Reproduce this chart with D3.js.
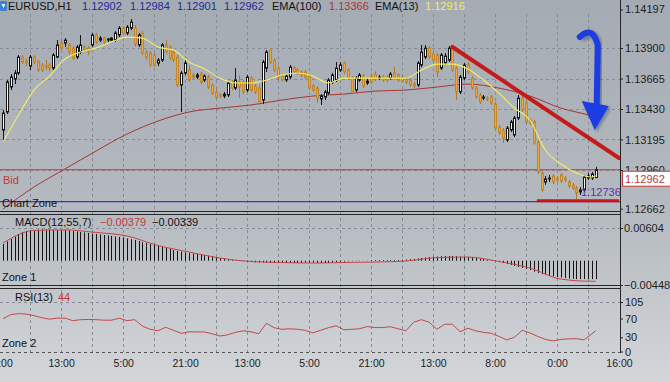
<!DOCTYPE html>
<html>
<head>
<meta charset="utf-8">
<script src="https://cdn.jsdelivr.net/npm/d3@7"></script>
<style>
  body { margin: 0; background: #c4c8cc; }
  svg { display: block; font-family: "Liberation Sans", Arial, sans-serif; }
</style>
</head>
<body>
<script>
// EURUSD H1 — one candle per hour, bar 0 .. 153
const open = [
  1.13268,1.13407,1.13599,1.13661,1.13707,1.13830,1.13799,1.13761,1.13830,1.13792,
  1.13769,1.13761,1.13769,1.13745,1.13830,1.13938,1.13938,1.13923,1.13899,1.13830,
  1.13869,1.13907,1.13899,1.13923,1.14000,1.13961,1.13976,1.13961,1.13961,1.13961,
  1.14000,1.14053,1.14015,1.14053,1.14053,1.13923,1.14015,1.13869,1.13861,1.13846,
  1.13784,1.13807,1.13923,1.13907,1.13869,1.13830,1.13615,1.13707,1.13730,1.13692,
  1.13676,1.13699,1.13653,1.13676,1.13615,1.13561,1.13538,1.13530,1.13538,1.13638,
  1.13591,1.13638,1.13638,1.13576,1.13668,1.13607,1.13591,1.13499,1.13745,1.13884,
  1.13807,1.13745,1.13684,1.13653,1.13676,1.13745,1.13730,1.13715,1.13715,1.13684,
  1.13607,1.13591,1.13507,1.13522,1.13553,1.13638,1.13653,1.13730,1.13784,1.13730,
  1.13668,1.13576,1.13653,1.13684,1.13630,1.13684,1.13699,1.13668,1.13676,1.13676,
  1.13668,1.13707,1.13692,1.13676,1.13661,1.13653,1.13622,1.13615,1.13769,1.13830,
  1.13899,1.13853,1.13846,1.13745,1.13784,1.13807,1.13907,1.13745,1.13561,1.13668,
  1.13776,1.13668,1.13591,1.13538,1.13514,1.13514,1.13522,1.13468,1.13291,1.13268,
  1.13191,1.13268,1.13230,1.13360,1.13514,1.13476,1.13345,1.13330,1.13176,1.12937,
  1.12868,1.12891,1.12914,1.12898,1.12922,1.12898,1.12868,1.12845,1.12821,1.12791,
  1.12806,1.12898,1.12898,1.12902
];
const high = [
  1.13422,1.13653,1.13699,1.13730,1.13846,1.13846,1.13822,1.13846,1.13846,1.13807,
  1.13784,1.13807,1.13784,1.13861,1.13961,1.13961,1.13976,1.13938,1.13915,1.13923,
  1.14000,1.13923,1.13915,1.14015,1.14015,1.13992,1.13984,1.13976,1.13984,1.14030,
  1.14069,1.14061,1.14077,1.14123,1.14077,1.14015,1.14030,1.13884,1.13876,1.13861,
  1.13822,1.13938,1.13961,1.13923,1.13884,1.13846,1.13722,1.13807,1.13769,1.13707,
  1.13707,1.13715,1.13699,1.13692,1.13630,1.13591,1.13553,1.13561,1.13645,1.13653,
  1.13745,1.13692,1.13653,1.13692,1.13684,1.13622,1.13615,1.13807,1.13884,1.13899,
  1.13822,1.13761,1.13699,1.13699,1.13769,1.13761,1.13745,1.13730,1.13730,1.13699,
  1.13622,1.13607,1.13545,1.13576,1.13668,1.13707,1.13792,1.13792,1.13799,1.13745,
  1.13684,1.13684,1.13707,1.13699,1.13668,1.13707,1.13722,1.13692,1.13692,1.13692,
  1.13715,1.13753,1.13707,1.13692,1.13676,1.13668,1.13638,1.13799,1.13923,1.13923,
  1.13915,1.13869,1.13861,1.13861,1.13861,1.13915,1.13923,1.13761,1.13692,1.13784,
  1.13792,1.13684,1.13607,1.13553,1.13538,1.13530,1.13538,1.13484,1.13307,1.13283,
  1.13299,1.13345,1.13376,1.13538,1.13530,1.13499,1.13360,1.13345,1.13191,1.12952,
  1.12914,1.12922,1.12929,1.12914,1.12937,1.12914,1.12883,1.12860,1.12837,1.12829,
  1.12922,1.12937,1.12945,1.12984
];
const low = [
  1.13176,1.13391,1.13576,1.13622,1.13692,1.13776,1.13761,1.13730,1.13776,1.13715,
  1.13715,1.13730,1.13722,1.13730,1.13822,1.13884,1.13907,1.13853,1.13807,1.13815,
  1.13853,1.13869,1.13846,1.13907,1.13930,1.13946,1.13930,1.13946,1.13953,1.13946,
  1.13984,1.14000,1.14000,1.14038,1.13915,1.13907,1.13846,1.13807,1.13753,1.13753,
  1.13761,1.13792,1.13853,1.13807,1.13792,1.13599,1.13407,1.13692,1.13638,1.13661,
  1.13661,1.13622,1.13638,1.13584,1.13538,1.13507,1.13514,1.13514,1.13522,1.13576,
  1.13576,1.13514,1.13545,1.13561,1.13561,1.13545,1.13461,1.13468,1.13715,1.13776,
  1.13715,1.13653,1.13638,1.13638,1.13661,1.13699,1.13692,1.13676,1.13661,1.13576,
  1.13561,1.13476,1.13461,1.13499,1.13538,1.13622,1.13638,1.13715,1.13699,1.13653,
  1.13545,1.13561,1.13638,1.13591,1.13615,1.13622,1.13645,1.13653,1.13638,1.13638,
  1.13653,1.13653,1.13638,1.13630,1.13622,1.13599,1.13591,1.13599,1.13753,1.13815,
  1.13815,1.13792,1.13676,1.13730,1.13769,1.13792,1.13715,1.13499,1.13545,1.13653,
  1.13699,1.13576,1.13507,1.13468,1.13499,1.13491,1.13461,1.13268,1.13230,1.13168,
  1.13176,1.13253,1.13214,1.13345,1.13407,1.13314,1.13307,1.13153,1.12929,1.12791,
  1.12845,1.12868,1.12852,1.12868,1.12860,1.12868,1.12821,1.12806,1.12736,1.12768,
  1.12791,1.12883,1.12883,1.12901
];
const close = [
  1.13399,1.13638,1.13676,1.13707,1.13830,1.13792,1.13784,1.13830,1.13792,1.13730,
  1.13730,1.13753,1.13745,1.13846,1.13923,1.13899,1.13961,1.13869,1.13822,1.13907,
  1.13923,1.13884,1.13869,1.14000,1.13946,1.13976,1.13946,1.13969,1.13976,1.14015,
  1.14053,1.14015,1.14061,1.14100,1.13930,1.14000,1.13861,1.13830,1.13769,1.13769,
  1.13807,1.13923,1.13869,1.13822,1.13807,1.13615,1.13707,1.13784,1.13653,1.13676,
  1.13692,1.13638,1.13684,1.13599,1.13553,1.13522,1.13530,1.13545,1.13630,1.13591,
  1.13653,1.13599,1.13561,1.13676,1.13576,1.13561,1.13484,1.13792,1.13869,1.13792,
  1.13730,1.13668,1.13653,1.13684,1.13753,1.13715,1.13707,1.13692,1.13676,1.13591,
  1.13576,1.13514,1.13530,1.13561,1.13653,1.13692,1.13745,1.13769,1.13715,1.13668,
  1.13561,1.13668,1.13692,1.13607,1.13645,1.13638,1.13661,1.13676,1.13653,1.13653,
  1.13699,1.13668,1.13653,1.13645,1.13638,1.13615,1.13607,1.13784,1.13869,1.13899,
  1.13830,1.13807,1.13715,1.13846,1.13838,1.13899,1.13730,1.13561,1.13676,1.13769,
  1.13715,1.13591,1.13522,1.13484,1.13522,1.13507,1.13476,1.13283,1.13245,1.13206,
  1.13283,1.13330,1.13360,1.13514,1.13422,1.13330,1.13322,1.13168,1.12945,1.12806,
  1.12891,1.12898,1.12868,1.12883,1.12875,1.12883,1.12837,1.12821,1.12783,1.12806,
  1.12906,1.12914,1.12929,1.12962
];

// EMA(13), read every 4th bar (+ last bar)
const ema13Bars = d3.range(0, 153, 4).concat([153]);
const ema13 = [
  1.13176,1.13384,1.13576,1.13684,1.13815,1.13869,1.13899,1.13946,1.13984,1.13976,
  1.13907,1.13884,1.13792,1.13738,1.13668,1.13630,1.13630,1.13653,1.13692,1.13707,
  1.13684,1.13630,1.13668,1.13668,1.13668,1.13668,1.13668,1.13730,1.13776,1.13776,
  1.13738,1.13653,1.13553,1.13437,1.13345,1.13114,1.13006,1.12937,1.12906,1.12916
];
// EMA(100), read every 8th bar (+ last bar)
const ema100Bars = d3.range(0, 153, 8).concat([153]);
const ema100 = [
  1.12660,1.12829,1.12968,1.13106,1.13237,1.13337,1.13407,1.13437,1.13461,1.13499,
  1.13530,1.13545,1.13568,1.13576,1.13599,1.13622,1.13591,1.13530,1.13437,1.13376,1.13366
];

// MACD(12,55,7) histogram, one per bar
const macd = [
  0.00309,0.00355,0.00401,0.00448,0.00494,0.00522,0.00549,0.00559,0.00568,0.00572,
  0.00577,0.00577,0.00577,0.00572,0.00568,0.00568,0.00568,0.00559,0.00549,0.00540,
  0.00531,0.00522,0.00512,0.00503,0.00494,0.00485,0.00475,0.00466,0.00457,0.00448,
  0.00438,0.00424,0.00411,0.00398,0.00383,0.00364,0.00346,0.00327,0.00309,0.00290,
  0.00272,0.00253,0.00235,0.00216,0.00198,0.00183,0.00170,0.00155,0.00142,0.00133,
  0.00124,0.00115,0.00105,0.00091,0.00078,0.00065,0.00050,0.00035,0.00022,0.00013,
  0.00004,-0.00002,-0.00006,-0.00015,-0.00024,-0.00030,-0.00033,-0.00033,-0.00033,-0.00039,
  -0.00043,-0.00043,-0.00043,-0.00043,-0.00043,-0.00043,-0.00043,-0.00039,-0.00033,-0.00033,
  -0.00033,-0.00039,-0.00043,-0.00043,-0.00043,-0.00033,-0.00024,-0.00020,-0.00015,-0.00009,
  -0.00006,-0.00006,-0.00006,-0.00002,0.00004,0.00009,0.00013,0.00013,0.00013,0.00013,
  0.00013,0.00013,0.00013,0.00017,0.00022,0.00028,0.00031,0.00041,0.00050,0.00059,
  0.00068,0.00072,0.00078,0.00083,0.00087,0.00087,0.00087,0.00083,0.00078,0.00072,
  0.00068,0.00059,0.00050,0.00041,0.00031,0.00017,0.00004,-0.00009,-0.00024,-0.00043,
  -0.00061,-0.00080,-0.00098,-0.00117,-0.00135,-0.00154,-0.00172,-0.00200,-0.00228,-0.00246,
  -0.00255,-0.00274,-0.00289,-0.00302,-0.00311,-0.00320,-0.00329,-0.00335,-0.00339,-0.00339,
  -0.00339,-0.00339,-0.00339,-0.00339
];
// MACD signal, read every 8th bar (+ last bar)
const signalBars = d3.range(0, 153, 8).concat([153]);
const signal = [
  0.00327,0.00559,0.00568,0.00522,0.00457,0.00281,0.00161,0.00050,-0.00015,-0.00033,
  -0.00043,-0.00033,-0.00024,-0.00006,0.00059,0.00068,-0.00015,-0.00135,-0.00339,-0.00379,-0.00379
];

// RSI(13), read every 2nd bar (+ last bar)
const rsiBars = d3.range(0, 153, 2).concat([153]);
const rsi = [
  69.6,78.2,80.4,79.3,76.1,71.8,68.6,70.7,70.7,65.4,
  67.5,67.9,67.5,66.4,66.4,70.7,65.4,67.5,53.6,47.1,
  43.9,51.4,45.0,38.6,41.8,41.4,41.4,37.5,32.8,35.4,
  40.7,43.9,41.8,37.5,60.0,50.4,47.1,48.2,47.1,45.0,
  39.6,45.0,50.4,54.6,46.1,47.1,48.2,52.9,50.8,50.8,
  52.5,48.2,43.9,62.1,67.5,62.1,47.1,57.9,57.9,41.8,
  49.3,43.9,40.7,38.6,32.1,24.6,30.0,45.0,39.6,32.1,
  25.7,22.5,25.7,26.8,27.2,24.6,37.5,44
];

// axes
const priceTicks = [1.14197, 1.13900, 1.13665, 1.13430, 1.13195, 1.12960, 1.12662];
const priceGrid = [1.13900, 1.13665, 1.13430, 1.13195, 1.12960];
const macdTicks = [0.00604, -0.00448];
const rsiTicks = [105, 70, 30, 0];
const timeBars = [-1, 15, 31, 47, 63, 79, 95, 111, 127, 143, 159];
const timeLabels = ["21:00", "13:00", "5:00", "21:00", "13:00", "5:00", "21:00", "13:00", "8:00", "0:00", "16:00"];

// levels drawn on the chart
const bid = 1.12962;
const lowMark = 1.12736;
const chartZone = 1.12717;
const support = { from: 137.8, to: 159, price: 1.12724 };
const trend = { from: [116, 1.13908], to: [159, 1.13052] };

const W = 670, H = 382, axisX = 620;

const x = d3.scaleLinear().domain([0, 159]).range([3, 619]);
const yPrice = d3.scaleLinear().domain([1.12960, 1.13900]).range([170, 48]);
const yMacd = d3.scaleLinear().domain([-0.00448, 0.00604]).range([285, 228]);
const yRsi = d3.scaleLinear().domain([0, 105]).range([351.5, 302]);

const svg = d3.select("body").append("svg").attr("width", W).attr("height", H);
const defs = svg.append("defs");

const bg = defs.append("linearGradient").attr("id", "bg")
  .attr("x1", 0).attr("y1", 0).attr("x2", 0).attr("y2", 1);
bg.append("stop").attr("offset", "0%").attr("stop-color", "#a5abb3");
bg.append("stop").attr("offset", "55%").attr("stop-color", "#b5bac0");
bg.append("stop").attr("offset", "100%").attr("stop-color", "#d3d6d9");

defs.append("clipPath").attr("id", "clipMain").append("rect")
  .attr("x", 0).attr("y", 0).attr("width", axisX).attr("height", 211);
defs.append("clipPath").attr("id", "clipMacd").append("rect")
  .attr("x", 0).attr("y", 215).attr("width", axisX).attr("height", 70);
defs.append("clipPath").attr("id", "clipRsi").append("rect")
  .attr("x", 0).attr("y", 289).attr("width", axisX).attr("height", 63);

const shadow = defs.append("filter").attr("id", "blur");
shadow.append("feGaussianBlur").attr("stdDeviation", 1.5);

svg.append("rect").attr("width", W).attr("height", H).attr("fill", "url(#bg)");

// Grid
const gridColor = "#858c95";
const grid = svg.append("g").attr("stroke", gridColor).attr("stroke-dasharray", "3,3").attr("shape-rendering", "crispEdges");
grid.selectAll("line.v").data(d3.range(-1, 159, 8)).join("line")
  .attr("x1", d => Math.round(x(d)) + 0.5).attr("x2", d => Math.round(x(d)) + 0.5)
  .attr("y1", 14).attr("y2", 352);
grid.selectAll("line.p").data(priceGrid).join("line")
  .attr("x1", 0).attr("x2", axisX)
  .attr("y1", d => Math.round(yPrice(d)) + 0.5).attr("y2", d => Math.round(yPrice(d)) + 0.5);
grid.append("line").attr("x1", 0).attr("x2", axisX)
  .attr("y1", Math.round(yMacd(macdTicks[0])) + 0.5).attr("y2", Math.round(yMacd(macdTicks[0])) + 0.5);
grid.append("line").attr("x1", 0).attr("x2", axisX)
  .attr("y1", Math.round(yRsi(105)) + 0.5).attr("y2", Math.round(yRsi(105)) + 0.5);
grid.append("line").attr("x1", 0).attr("x2", axisX).attr("stroke", "#555")
  .attr("y1", 352.5).attr("y2", 352.5);

// Main chart
const main = svg.append("g").attr("clip-path", "url(#clipMain)");

const lineSlow = d3.line().x(d => x(d[0])).y(d => yPrice(d[1])).curve(d3.curveMonotoneX);
main.append("path")
  .datum(ema100Bars.map((b, i) => [b, ema100[i]]))
  .attr("d", lineSlow).attr("fill", "none").attr("stroke", "#a83434").attr("stroke-width", 1);

main.append("line")
  .attr("x1", 0).attr("x2", axisX)
  .attr("y1", yPrice(bid)).attr("y2", yPrice(bid))
  .attr("stroke", "#c23a3a").attr("stroke-width", 1);

main.append("line")
  .attr("x1", 0).attr("x2", axisX)
  .attr("y1", yPrice(chartZone)).attr("y2", yPrice(chartZone))
  .attr("stroke", "#5a2fae").attr("stroke-width", 1.2);

const candles = open.map((o, i) => ({ i, o, h: high[i], l: low[i], c: close[i] }));
main.append("g").selectAll("line").data(candles).join("line")
  .attr("x1", d => Math.round(x(d.i)) + 0.5).attr("x2", d => Math.round(x(d.i)) + 0.5)
  .attr("y1", d => yPrice(d.h)).attr("y2", d => yPrice(d.l))
  .attr("stroke", d => d.c >= d.o ? "#161616" : "#a97a36");
main.append("g").selectAll("rect").data(candles).join("rect")
  .attr("x", d => Math.round(x(d.i)) - 0.5).attr("width", 2)
  .attr("y", d => yPrice(Math.max(d.o, d.c)))
  .attr("height", d => Math.max(0.8, Math.abs(yPrice(d.o) - yPrice(d.c))))
  .attr("fill", d => d.c >= d.o ? "#f7f7f7" : "#eba53a")
  .attr("stroke", d => d.c >= d.o ? "#161616" : "#c4872a")
  .attr("stroke-width", 1);

main.append("path")
  .datum(ema13Bars.map((b, i) => [b, ema13[i]]))
  .attr("d", lineSlow).attr("fill", "none").attr("stroke", "#f2f062").attr("stroke-width", 1.1);

// trend line and support
main.append("line")
  .attr("x1", x(trend.from[0])).attr("y1", yPrice(trend.from[1]))
  .attr("x2", x(trend.to[0])).attr("y2", yPrice(trend.to[1]))
  .attr("stroke", "#c41a1a").attr("stroke-width", 4).attr("stroke-linecap", "round");
main.append("line")
  .attr("x1", x(support.from)).attr("x2", x(support.to))
  .attr("y1", yPrice(support.price)).attr("y2", yPrice(support.price))
  .attr("stroke", "#d01414").attr("stroke-width", 3);

// blue arrow
const ax = x(153) + 1, ay = yPrice(1.13900);
const arrow = svg.append("g");
const hook = `M${ax - 17},${ay - 11} Q${ax - 4},${ay - 23} ${ax + 1},${ay - 3} L${ax},${ay + 56}`;
const head = `M${ax - 15},${ay + 53} L${ax + 12},${ay + 58} L${ax - 2},${ay + 82} Z`;
arrow.append("path").attr("d", hook).attr("fill", "none").attr("stroke", "rgba(10,20,80,0.35)")
  .attr("stroke-width", 7).attr("transform", "translate(2,2)").attr("filter", "url(#blur)");
arrow.append("path").attr("d", head).attr("fill", "rgba(10,20,80,0.35)")
  .attr("transform", "translate(2,2)").attr("filter", "url(#blur)");
arrow.append("path").attr("d", hook).attr("fill", "none").attr("stroke", "#1c3ce4")
  .attr("stroke-width", 6).attr("stroke-linecap", "round");
arrow.append("path").attr("d", head).attr("fill", "#1c3ce4");

// MACD
const macdG = svg.append("g").attr("clip-path", "url(#clipMacd)");
macdG.append("g").selectAll("line").data(macd).join("line")
  .attr("x1", (d, i) => Math.round(x(i)) + 0.5).attr("x2", (d, i) => Math.round(x(i)) + 0.5)
  .attr("y1", yMacd(0)).attr("y2", d => yMacd(d))
  .attr("stroke", "#141414").attr("stroke-width", 1);
macdG.append("path")
  .datum(signalBars.map((b, i) => [b, signal[i]]))
  .attr("d", d3.line().x(d => x(d[0])).y(d => yMacd(d[1])).curve(d3.curveMonotoneX))
  .attr("fill", "none").attr("stroke", "#c84444").attr("stroke-width", 1);

// RSI
svg.append("g").attr("clip-path", "url(#clipRsi)").append("path")
  .datum(rsiBars.map((b, i) => [b, rsi[i]]))
  .attr("d", d3.line().x(d => x(d[0])).y(d => yRsi(d[1])))
  .attr("fill", "none").attr("stroke", "#c44848").attr("stroke-width", 1);

// panel separators
const sep = svg.append("g").attr("stroke", "#262626").attr("shape-rendering", "crispEdges");
[211.5, 214.5, 285.5, 288.5].forEach(y => {
  sep.append("line").attr("x1", 0).attr("x2", axisX).attr("y1", y).attr("y2", y);
});
sep.append("line").attr("x1", axisX + 0.5).attr("x2", axisX + 0.5).attr("y1", 0).attr("y2", 353);

// right axes
const styleAxis = g => {
  g.select(".domain").remove();
  g.selectAll(".tick line").attr("stroke", "#262626");
  g.selectAll(".tick text").attr("fill", "#1e1e1e").attr("font-size", "11px")
    .attr("font-family", "Liberation Sans, Arial, sans-serif");
};
svg.append("g").attr("transform", `translate(${axisX},0)`)
  .call(d3.axisRight(yPrice).tickValues(priceTicks).tickSize(3).tickPadding(2).tickFormat(d3.format(".5f")))
  .call(styleAxis);
svg.append("g").attr("transform", `translate(${axisX},0)`)
  .call(d3.axisRight(yMacd).tickValues(macdTicks).tickSize(3).tickPadding(1).tickFormat(d3.format(".5f")))
  .call(styleAxis);
svg.append("g").attr("transform", `translate(${axisX},0)`)
  .call(d3.axisRight(yRsi).tickValues(rsiTicks).tickSize(3).tickPadding(2).tickFormat(d3.format("d")))
  .call(styleAxis);

// time axis
svg.append("g").attr("transform", "translate(0,352)")
  .call(d3.axisBottom(x).tickValues(timeBars).tickSize(0).tickPadding(8).tickFormat((d, i) => timeLabels[i]))
  .call(g => {
    g.select(".domain").remove();
    g.selectAll(".tick text").attr("fill", "#1e1e1e").attr("font-size", "10.5px")
      .attr("font-family", "Liberation Sans, Arial, sans-serif");
  });

// bid price box
const by = yPrice(bid);
svg.append("rect").attr("x", 622.5).attr("y", by + 1.5).attr("width", 50).attr("height", 15)
  .attr("fill", "#ffffff").attr("stroke", "#c23a3a");
svg.append("text").attr("x", 625).attr("y", by + 13).attr("font-size", "11px")
  .attr("fill", "#c23a3a").text(d3.format(".5f")(bid));

// labels
const txt = (tx, ty, s, fill, size = 11) =>
  svg.append("text").attr("x", tx).attr("y", ty).attr("font-size", size + "px").attr("fill", fill).text(s);

txt(3, by + 14, "Bid", "#c23a3a");
txt(2, yPrice(chartZone) + 5, "Chart Zone", "#111");
txt(581, yPrice(lowMark) - 3, d3.format(".5f")(lowMark), "#5a35a8");

txt(15, 226, "MACD(12,55,7)", "#111");
txt(100, 226, d3.format(".5f")(signal[signal.length - 1]), "#c23a3a");
txt(152, 226, d3.format(".5f")(macd[macd.length - 1]), "#111");
txt(2, 281, "Zone 1", "#111");
txt(15, 301, "RSI(13)", "#111");
txt(58, 301, rsi[rsi.length - 1], "#c23a3a");
txt(2, 347, "Zone 2", "#111");

// header
const icon = svg.append("g");
icon.append("rect").attr("x", 0).attr("y", 1).attr("width", 7).attr("height", 10).attr("rx", 1).attr("fill", "#3f7fd6");
icon.append("path").attr("d", "M1.5,4 L5.5,4 L3.5,8 Z").attr("fill", "#ffffff");

const last = open.length - 1;
const fmt = d3.format(".5f");
txt(8, 10, "EURUSD,H1", "#111");
txt(82, 10, fmt(open[last]), "#1f2b9e");
txt(130, 10, fmt(high[last]), "#1f2b9e");
txt(177, 10, fmt(low[last]), "#1f2b9e");
txt(224, 10, fmt(close[last]), "#1f2b9e");
txt(272, 10, "EMA(100)", "#111");
txt(329, 10, fmt(ema100[ema100.length - 1]), "#b83232");
txt(375, 10, "EMA(13)", "#111");
txt(425, 10, fmt(ema13[ema13.length - 1]), "#eeee55");
</script>
</body>
</html>
